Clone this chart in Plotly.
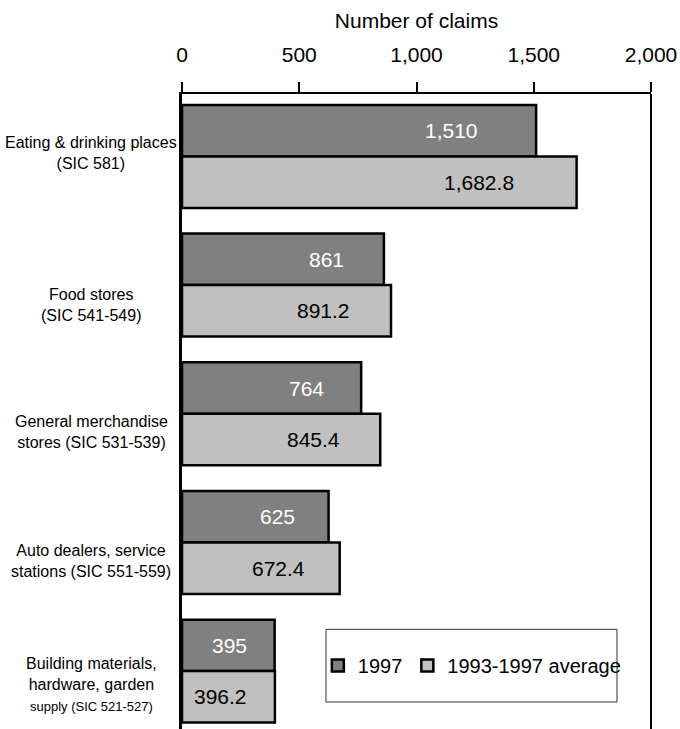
import plotly.graph_objects as go

# Industry groups (top to bottom) and claim counts
industries = [
    "Eating & drinking places<br>(SIC 581)",
    "Food stores<br>(SIC 541-549)",
    "General merchandise<br>stores (SIC 531-539)",
    "Auto dealers, service<br>stations (SIC 551-559)",
    "Building materials,<br>hardware, garden<br><span style='font-size:13px'>supply (SIC 521-527)</span>",
]
claims_1997 = [1510, 861, 764, 625, 395]
claims_avg = [1682.8, 891.2, 845.4, 672.4, 396.2]
labels_1997 = ["1,510", "861", "764", "625", "395"]
labels_avg = ["1,682.8", "891.2", "845.4", "672.4", "396.2"]
x_ticks = [0, 500, 1000, 1500, 2000]

# vertical nudge (px) of each industry caption
caption_nudge = [3, -20, -18, -19, -13]

cats = [f"c{i}" for i in range(len(industries))]

W, H = 680, 729
M_L, M_R, M_T, M_B = 182, 29, 94, 0
Y_RANGE = [4.45, -0.485]
BARGAP = 0.2

plot_h = H - M_T - M_B
px_per_cat = plot_h / (Y_RANGE[0] - Y_RANGE[1])
bar_offset_px = px_per_cat * (1 - BARGAP) / 4

# value labels sit inside the bar, a little short of its end
LABEL_FRAC = 0.885
LABEL_PAD = -15

DARK = "#808080"
LIGHT = "#c0c0c0"
FONT = "Liberation Sans, Arial, sans-serif"

fig = go.Figure()
fig.add_trace(go.Bar(
    name="1997", y=cats, x=claims_1997, orientation="h",
    marker=dict(color=DARK, line=dict(color="black", width=2.5)),
))
fig.add_trace(go.Bar(
    name="1993-1997 average", y=cats, x=claims_avg, orientation="h",
    marker=dict(color=LIGHT, line=dict(color="black", width=2.5)),
))

annotations = []
for c, v, t in zip(cats, claims_1997, labels_1997):
    annotations.append(dict(
        x=v * LABEL_FRAC, y=c, xref="x", yref="y", text=t, showarrow=False,
        xanchor="right", xshift=LABEL_PAD, yshift=bar_offset_px,
        font=dict(family=FONT, size=21, color="white"),
    ))
for c, v, t in zip(cats, claims_avg, labels_avg):
    annotations.append(dict(
        x=v * LABEL_FRAC, y=c, xref="x", yref="y", text=t, showarrow=False,
        xanchor="right", xshift=LABEL_PAD, yshift=-bar_offset_px,
        font=dict(family=FONT, size=21, color="black"),
    ))
for c, name, dy in zip(cats, industries, caption_nudge):
    annotations.append(dict(
        x=-0.194, y=c, xref="paper", yref="y", text=name, showarrow=False,
        xanchor="center", align="center", yshift=dy,
        font=dict(family=FONT, size=16, color="black"),
    ))

fig.update_layout(
    width=W, height=H,
    margin=dict(l=M_L, r=M_R, t=M_T, b=M_B),
    paper_bgcolor="white", plot_bgcolor="white",
    barmode="group", bargap=BARGAP, bargroupgap=0,
    font=dict(family=FONT, size=21, color="black"),
    annotations=annotations,
    legend=dict(
        orientation="h", x=0.618, y=0.10, xanchor="center", yanchor="middle",
        bgcolor="rgba(0,0,0,0)", font=dict(size=20), traceorder="normal",
    ),
    shapes=[
        dict(type="rect", xref="paper", yref="paper", x0=0.307, x1=0.9275,
             y0=0.0425, y1=0.157, line=dict(color="#333333", width=1),
             fillcolor="white", layer="below"),
        dict(type="line", xref="paper", yref="paper", x0=1, x1=1, y0=0, y1=1,
             line=dict(color="black", width=2)),
    ],
)
fig.update_xaxes(
    side="top", range=[0, 2000], tickvals=x_ticks, tickformat=",",
    showline=True, linecolor="black", linewidth=2,
    ticks="outside", ticklen=10, tickwidth=2, tickcolor="black",
    ticklabelstandoff=12, showgrid=False, zeroline=False,
    title=dict(text="Number of claims", standoff=8, font=dict(size=21)),
    tickfont=dict(size=21),
)
fig.update_yaxes(
    range=Y_RANGE, showticklabels=False, showgrid=False, zeroline=False,
    showline=True, linecolor="black", linewidth=3, ticks="",
)

fig.write_html("out.html")
